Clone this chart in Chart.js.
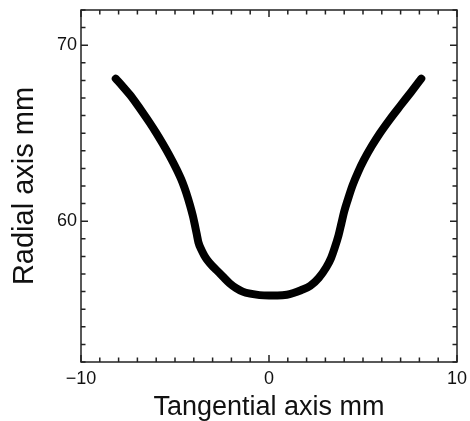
<!DOCTYPE html>
<html>
<head>
<meta charset="utf-8">
<script src="https://cdn.jsdelivr.net/npm/chart.js@4"></script>
<style>
  html, body { margin: 0; padding: 0; background: #fff; }
  #wrap { width: 470px; height: 421px; }
</style>
</head>
<body>
<div id="wrap"><canvas id="profile"></canvas></div>
<script>
// Profile (mm)
const tangentialMm = [-8.15, -7.75, -7.4, -7.05, -6.7, -6.35, -6.0, -5.65, -5.3, -4.95, -4.6, -4.4, -4.2, -4.05,
  -3.95, -3.85, -3.75, -3.6, -3.45, -3.3, -3.05, -2.8, -2.45, -2.1, -1.75, -1.4, -1.0, -0.5, 0.0, 0.45, 0.95,
  1.3, 1.7, 2.2, 2.65, 3.05, 3.3, 3.5, 3.7, 3.85, 4.0, 4.2, 4.45, 4.75, 5.05, 5.45, 5.9, 6.45, 7.0, 7.55, 8.1];
const radialMm = [68.1, 67.62, 67.18, 66.68, 66.15, 65.6, 65.02, 64.4, 63.74, 63.02, 62.2, 61.6, 60.9, 60.3,
  59.82, 59.3, 58.78, 58.38, 58.07, 57.82, 57.5, 57.23, 56.85, 56.48, 56.2, 56.0, 55.88, 55.8, 55.78, 55.78, 55.82,
  55.92, 56.08, 56.33, 56.78, 57.38, 57.9, 58.5, 59.2, 59.87, 60.55, 61.25, 62.05, 62.82, 63.48, 64.24, 65.0, 65.82,
  66.58, 67.33, 68.1];

const xTickLabels = [-10, 0, 10];
const yTickLabels = [60, 70];

const fmt = (v) => (v < 0 ? '\u2212' + Math.abs(v) : String(v));

// Frame and inward ticks on all four sides
const frameTicks = {
  id: 'frameTicks',
  beforeDatasetsDraw(chart) {
    const { ctx, chartArea: a, scales } = chart;
    ctx.save();
    ctx.strokeStyle = '#222';
    ctx.lineWidth = 1.5;
    ctx.strokeRect(a.left, a.top, a.right - a.left, a.bottom - a.top);
    ctx.beginPath();
    scales.x.ticks.forEach((t) => {
      const px = scales.x.getPixelForValue(t.value);
      const len = xTickLabels.includes(t.value) ? 7 : 4.5;
      ctx.moveTo(px, a.bottom); ctx.lineTo(px, a.bottom - len);
      ctx.moveTo(px, a.top); ctx.lineTo(px, a.top + len);
    });
    scales.y.ticks.forEach((t) => {
      const py = scales.y.getPixelForValue(t.value);
      const len = yTickLabels.includes(t.value) ? 7 : 4.5;
      ctx.moveTo(a.left, py); ctx.lineTo(a.left + len, py);
      ctx.moveTo(a.right, py); ctx.lineTo(a.right - len, py);
    });
    ctx.stroke();
    ctx.restore();
  }
};

const canvas = document.getElementById('profile');
const context = canvas.getContext('2d');

new Chart(context, {
  type: 'line',
  data: {
    datasets: [
      {
        data: tangentialMm.map((x, i) => ({ x: x, y: radialMm[i] })),
        borderColor: '#000',
        borderWidth: 8,
        borderCapStyle: 'round',
        borderJoinStyle: 'round',
        cubicInterpolationMode: 'monotone',
        pointRadius: 0,
        fill: false,
      },
    ],
  },
  options: {
    responsive: true,
    maintainAspectRatio: false,
    animation: false,
    layout: { padding: { top: 10, right: 13, left: 0, bottom: 0 } },
    plugins: { legend: { display: false }, tooltip: { enabled: false } },
    scales: {
      x: {
        type: 'linear',
        min: -10,
        max: 10,
        grid: { display: false, drawTicks: false },
        border: { display: false },
        ticks: {
          stepSize: 1,
          autoSkip: false,
          maxRotation: 0,
          padding: 6,
          color: '#111',
          font: { family: 'Liberation Sans', size: 18 },
          callback: (v) => (xTickLabels.includes(v) ? fmt(v) : ''),
        },
        title: {
          display: true,
          text: 'Tangential axis mm',
          color: '#111',
          font: { family: 'Liberation Sans', size: 27, lineHeight: 1 },
          padding: { top: 0, bottom: 0 },
        },
        afterFit: (scale) => {
          scale.height = 59;
          scale.paddingLeft = 0;
          scale.paddingRight = 0;
        },
      },
      y: {
        min: 52,
        max: 72,
        grid: { display: false, drawTicks: false },
        border: { display: false },
        ticks: {
          stepSize: 1,
          autoSkip: false,
          padding: 4,
          color: '#111',
          font: { family: 'Liberation Sans', size: 18 },
          callback: (v) => (yTickLabels.includes(v) ? fmt(v) : ''),
        },
        title: {
          display: true,
          text: 'Radial axis mm',
          color: '#111',
          font: { family: 'Liberation Sans', size: 29, lineHeight: 1 },
          padding: { top: 10, bottom: 0 },
        },
        afterFit: (scale) => {
          scale.width = 81;
          scale.paddingTop = 0;
          scale.paddingBottom = 0;
        },
      },
    },
  },
  plugins: [frameTicks],
});
</script>
</body>
</html>
